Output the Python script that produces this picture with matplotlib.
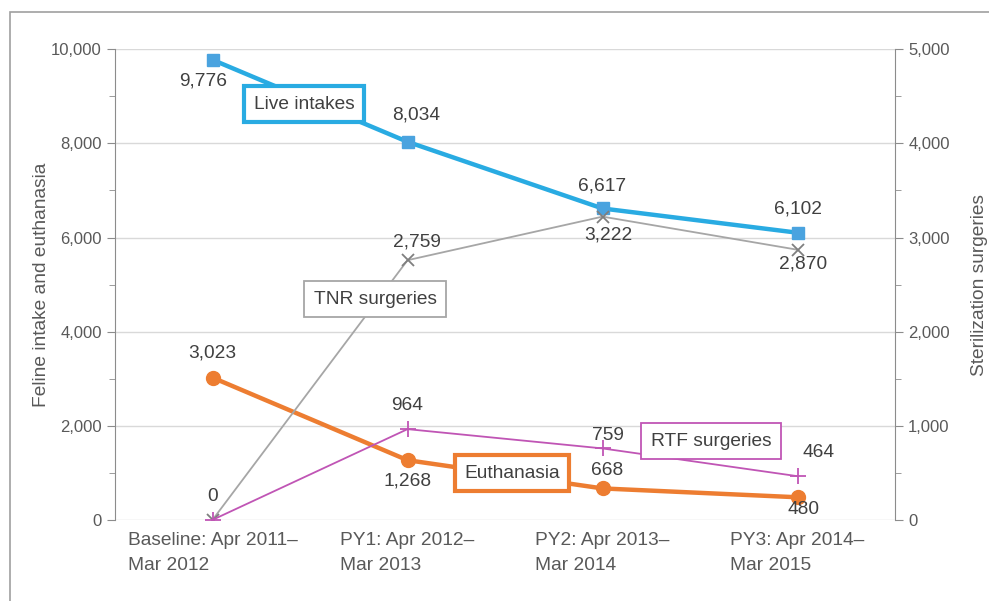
import matplotlib.pyplot as plt
import numpy as np
from matplotlib.patches import Rectangle

plt.rcParams['font.family'] = ['Liberation Sans', 'DejaVu Sans']

periods = ["Baseline: Apr 2011–\nMar 2012", "PY1: Apr 2012–\nMar 2013",
           "PY2: Apr 2013–\nMar 2014", "PY3: Apr 2014–\nMar 2015"]
live_intakes = [9776, 8034, 6617, 6102]
euthanasia = [3023, 1268, 668, 480]
tnr_surgeries = [0, 2759, 3222, 2870]
rtf_surgeries = [0, 964, 759, 464]

blue = "#29ABE2"
blue_mk = "#4AA3DF"
orange = "#ED7D31"
gray = "#A6A6A6"
gray_mk = "#7F7F7F"
magenta = "#C055B5"
txt = "#404040"
tick_c = "#595959"
axis_c = "#8C8C8C"
fs = 13.8

fig = plt.figure(figsize=(9.89, 6.01), dpi=100)
ax = fig.add_axes([0.1163, 0.135, 0.7887, 0.783])
ax2 = ax.twinx()

x = np.arange(len(periods))

ax.plot(x, live_intakes, color=blue, lw=3.2, marker="s", ms=8,
        mfc=blue_mk, mec=blue_mk, zorder=4)
ax.plot(x, euthanasia, color=orange, lw=3.2, marker="o", ms=10,
        mfc=orange, mec=orange, zorder=4)
ax2.plot(x, tnr_surgeries, color=gray, lw=1.3, marker="x", ms=8,
         mec=gray_mk, mew=1.3, zorder=3)
ax2.plot(x, rtf_surgeries, color=magenta, lw=1.3, marker="+", ms=11,
         mec=magenta, mew=1.3, zorder=3)

# axes
ax.set_xlim(-0.5, 3.5)
ax.set_ylim(0, 10000)
ax2.set_ylim(0, 5000)
ax.set_yticks(np.arange(0, 10001, 2000))
ax.set_yticks(np.arange(0, 10001, 1000), minor=True)
ax2.set_yticks(np.arange(0, 5001, 1000))
ax2.set_yticks(np.arange(0, 5001, 500), minor=True)
ax.set_yticklabels([f"{v:,}" for v in range(0, 10001, 2000)])
ax2.set_yticklabels([f"{v:,}" for v in range(0, 5001, 1000)])
ax.set_xticks(x)
ax.set_xticklabels(periods, fontsize=fs, color=tick_c, linespacing=1.6)
for lbl in ax.get_xticklabels():
    lbl.set_horizontalalignment("center")
    lbl.set_multialignment("left")
ax.tick_params(axis="x", length=0, pad=9)
for a in (ax, ax2):
    a.tick_params(axis="y", which="both", direction="out", colors=axis_c,
                  labelcolor=tick_c, labelsize=12)
    a.tick_params(axis="y", which="major", length=6)
    a.tick_params(axis="y", which="minor", length=4)
    for s in a.spines.values():
        s.set_visible(False)
ax.spines["left"].set_visible(True)
ax.spines["left"].set_color(axis_c)
ax2.spines["right"].set_visible(True)
ax2.spines["right"].set_color(axis_c)
ax.grid(axis="y", which="major", color="#D9D9D9", lw=1)
ax.set_axisbelow(True)

ax.set_ylabel("Feline intake and euthanasia", fontsize=fs, color=tick_c, labelpad=1)
ax2.set_ylabel("Sterilization surgeries", fontsize=fs, color=tick_c, labelpad=15)

# data labels
def lab(a, xi, yi, text, dx, dy):
    a.annotate(text, (xi, yi), xytext=(dx, dy), textcoords="offset points",
               ha="center", va="center", fontsize=fs, color=txt, zorder=6)

live_off = [(-7, -15), (6, 19), (0, 16), (0, 17)]
euth_off = [(0, 18), (0, -15), (3, 13), (4, -9)]
tnr_off = [(0, 17), (7, 13), (4, -13), (4, -10)]
rtf_off = [None, (0, 17), (4, 9), (15, 17)]
for i in range(4):
    lab(ax, x[i], live_intakes[i], f"{live_intakes[i]:,}", *live_off[i])
    lab(ax, x[i], euthanasia[i], f"{euthanasia[i]:,}", *euth_off[i])
    lab(ax2, x[i], tnr_surgeries[i], f"{tnr_surgeries[i]:,}", *tnr_off[i])
    if rtf_off[i] is not None:
        lab(ax2, x[i], rtf_surgeries[i], f"{rtf_surgeries[i]:,}", *rtf_off[i])

# series name boxes
def name_box(xf, yf, text, ec, lw):
    fig.text(xf, yf, text, ha="center", va="center", fontsize=fs, color=txt,
             zorder=10,
             bbox=dict(boxstyle="square,pad=0.5", fc="white", ec=ec, lw=lw))

name_box(304 / 989, 1 - 104 / 601, "Live intakes", blue, 3)
name_box(375 / 989, 1 - 299 / 601, "TNR surgeries", gray, 1.3)
name_box(512 / 989, 1 - 473 / 601, "Euthanasia", orange, 3)
name_box(711 / 989, 1 - 441 / 601, "RTF surgeries", magenta, 1.3)

# outer frame
fig.add_artist(Rectangle((10 / 989, -0.1), 1.2, 1 - 12 / 601 + 0.1,
                         transform=fig.transFigure, fill=False,
                         ec="#A0A0A0", lw=1.2))

fig.savefig("out.png", dpi=100)
